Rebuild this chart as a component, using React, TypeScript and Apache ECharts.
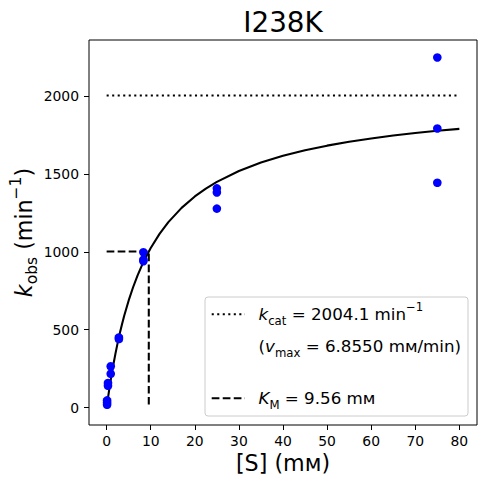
import React, { useEffect, useRef } from "react";
import * as echarts from "echarts";

// Observed data: substrate concentration [S] (mM) and k_obs (min^-1)
const obsS = [0.103, 0.103, 0.103, 0.309, 0.309, 0.926, 0.926, 2.78, 2.78, 8.33, 8.33, 8.33, 25, 25, 25, 75, 75, 75];
const obsK = [46, 32, 18, 140, 158, 265, 217, 440, 450, 998, 950, 940, 1408, 1382, 1278, 2249, 1793, 1444];

// Fitted Michaelis-Menten curve
const fitS = [0, 0.25, 0.5, 0.75, 1, 1.5, 2, 2.5, 3, 3.5, 4, 5, 6, 7, 8, 9, 10, 12, 14, 17, 20, 22.5, 25, 30, 35, 40, 45, 50, 55, 60, 65, 70, 75, 80];
const fitK = [0, 51.1, 99.6, 145.8, 189.8, 271.8, 346.7, 415.4, 478.7, 537.1, 591.2, 688.2, 772.8, 847.1, 913.0, 971.8, 1024.6, 1115.5, 1190.9, 1282.7, 1356.0, 1406.5, 1449.7, 1519.8, 1574.1, 1617.5, 1652.9, 1682.4, 1707.3, 1728.7, 1747.1, 1763.3, 1777.5, 1790.2];

// kcat line and KM guide lines
const kcatS = [0, 80];
const kcatK = [2004.1, 2004.1];
const kmS = [0, 9.56, 9.56];
const kmK = [1002.05, 1002.05, 0];

const xTicks = [0, 10, 20, 30, 40, 50, 60, 70, 80];
const yTicks = [0, 500, 1000, 1500, 2000];

const FONT = "DejaVu Sans";

export default function App() {
  const ref = useRef<HTMLDivElement>(null);
  useEffect(() => {
    const chart = echarts.init(ref.current!, null, { renderer: "svg" });
    const zip = (a: number[], b: number[]) => a.map((v, i) => [v, b[i]]);
    const legRich = {
      n: { fontFamily: FONT, fontSize: 16.7, lineHeight: 26, color: "#000" },
      i: { fontFamily: FONT, fontSize: 16.7, lineHeight: 26, fontStyle: "italic", color: "#000" },
      sub: { fontFamily: FONT, fontSize: 11.7, lineHeight: 12, verticalAlign: "bottom", color: "#000" },
      sup: { fontFamily: FONT, fontSize: 11.7, lineHeight: 12, verticalAlign: "top", color: "#000" },
    };
    const yRich = {
      n: { fontFamily: FONT, fontSize: 22.2, lineHeight: 32, color: "#000" },
      i: { fontFamily: FONT, fontSize: 22.2, lineHeight: 32, fontStyle: "italic", color: "#000" },
      sub: { fontFamily: FONT, fontSize: 15.5, lineHeight: 16, verticalAlign: "bottom", color: "#000" },
      sup: { fontFamily: FONT, fontSize: 15.5, lineHeight: 16, verticalAlign: "top", color: "#000" },
    };
    chart.setOption({
      animation: false,
      backgroundColor: "#fff",
      grid: {
        left: 89,
        right: 9,
        top: 40,
        bottom: 59,
        containLabel: false,
        outerBoundsMode: "none",
        show: true,
        borderColor: "#000",
        borderWidth: 1,
        backgroundColor: "transparent",
      },
      xAxis: {
        type: "value",
        min: -4,
        max: 84,
        axisLine: { show: false, onZero: false },
        splitLine: { show: false },
        axisTick: { show: true, length: 5, lineStyle: { color: "#000", width: 1 }, customValues: xTicks },
        axisLabel: {
          show: true,
          margin: 9,
          color: "#000",
          fontFamily: FONT,
          fontSize: 13.9,
          customValues: xTicks,
          formatter: (v: number) => String(v),
        },
      },
      yAxis: {
        type: "value",
        min: -112,
        max: 2361,
        axisLine: { show: false, onZero: false },
        splitLine: { show: false },
        axisTick: { show: true, length: 5, lineStyle: { color: "#000", width: 1 }, customValues: yTicks },
        axisLabel: {
          show: true,
          margin: 10,
          color: "#000",
          fontFamily: FONT,
          fontSize: 13.9,
          customValues: yTicks,
          formatter: (v: number) => String(v),
        },
      },
      series: [
        {
          type: "line",
          data: zip(kcatS, kcatK),
          showSymbol: false,
          symbol: "none",
          lineStyle: { color: "#000", width: 2.08, type: [2.08, 3.44], cap: "butt" },
          z: 2,
        },
        {
          type: "line",
          data: zip(kmS, kmK),
          showSymbol: false,
          symbol: "none",
          lineStyle: { color: "#000", width: 2.08, type: [7.7, 3.33], cap: "butt" },
          z: 2,
        },
        {
          type: "line",
          data: zip(fitS, fitK),
          showSymbol: false,
          symbol: "none",
          smooth: false,
          lineStyle: { color: "#000", width: 2.08, join: "round" },
          z: 3,
        },
        {
          type: "scatter",
          data: zip(obsS, obsK),
          symbol: "circle",
          symbolSize: 8.6,
          itemStyle: { color: "#0000ff", opacity: 1 },
          z: 4,
        },
      ],
      graphic: [
        {
          type: "text",
          z: 100,
          style: { text: "I238K", x: 283, y: 22, align: "center", verticalAlign: "middle", fontFamily: FONT, fontSize: 27.8, fill: "#000" },
        },
        {
          type: "text",
          z: 100,
          style: { text: "[S] (mᴍ)", x: 283, y: 463, align: "center", verticalAlign: "middle", fontFamily: FONT, fontSize: 22.2, fill: "#000" },
        },
        {
          type: "text",
          z: 100,
          x: 23.5,
          y: 232.5,
          rotation: Math.PI / 2,
          style: {
            text: "{i|k}{sub|obs}{n| (min}{sup|−1}{n|)}",
            rich: yRich,
            align: "center",
            verticalAlign: "middle",
            fontFamily: FONT,
            fontSize: 22.2,
            fill: "#000",
          },
        },
        {
          type: "rect",
          z: 100,
          shape: { x: 205, y: 297, width: 263, height: 119, r: 3 },
          style: { fill: "rgba(255,255,255,0.8)", stroke: "#cccccc", lineWidth: 1 },
        },
        {
          type: "line",
          z: 101,
          shape: { x1: 211.7, y1: 314.3, x2: 245, y2: 314.3 },
          style: { stroke: "#000", lineWidth: 2.08, lineDash: [2.08, 3.44], lineCap: "butt" },
        },
        {
          type: "line",
          z: 101,
          shape: { x1: 211.7, y1: 398.3, x2: 245, y2: 398.3 },
          style: { stroke: "#000", lineWidth: 2.08, lineDash: [7.7, 3.33], lineCap: "butt" },
        },
        {
          type: "text",
          z: 101,
          style: {
            text: "{i|k}{sub|cat}{n| = 2004.1 min}{sup|−1}",
            rich: legRich,
            x: 258.5,
            y: 314.3,
            align: "left",
            verticalAlign: "middle",
            fontFamily: FONT,
            fontSize: 16.7,
            fill: "#000",
          },
        },
        {
          type: "text",
          z: 101,
          style: {
            text: "{n|(}{i|v}{sub|max}{n| = 6.8550 mᴍ/min)}",
            rich: legRich,
            x: 258.5,
            y: 345.5,
            align: "left",
            verticalAlign: "middle",
            fontFamily: FONT,
            fontSize: 16.7,
            fill: "#000",
          },
        },
        {
          type: "text",
          z: 101,
          style: {
            text: "{i|K}{sub|M}{n| = 9.56 mᴍ}",
            rich: legRich,
            x: 258.5,
            y: 398,
            align: "left",
            verticalAlign: "middle",
            fontFamily: FONT,
            fontSize: 16.7,
            fill: "#000",
          },
        },
      ],
    });
    return () => chart.dispose();
  }, []);
  return <div ref={ref} style={{ position: "fixed", left: 0, top: 0, width: 486, height: 484 }} />;
}
